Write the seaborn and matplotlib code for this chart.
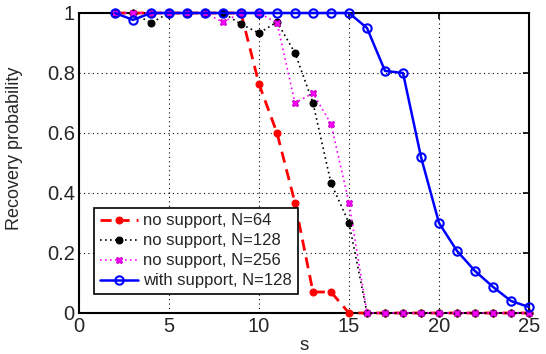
import numpy as np
import pandas as pd
import matplotlib
matplotlib.use("Agg")
import matplotlib.pyplot as plt
import seaborn as sns

s = list(range(2, 26))
p_n64 = [1, 1, 1, 1, 1, 1, 1, 1, 0.763, 0.60, 0.367, 0.07, 0.07, 0, 0, 0, 0, 0, 0, 0, 0, 0, 0, 0]
p_n128 = [1, 1, 0.967, 1, 1, 1, 1, 0.963, 0.933, 0.97, 0.867, 0.70, 0.433, 0.30, 0, 0, 0, 0, 0, 0, 0, 0, 0, 0]
p_n256 = [1, 1, 1, 1, 1, 1, 0.97, 1, 1, 0.967, 0.70, 0.733, 0.63, 0.367, 0, 0, 0, 0, 0, 0, 0, 0, 0, 0]
p_support = [1, 0.977, 1, 1, 1, 1, 1, 1, 1, 1, 1, 1, 1, 1, 0.95, 0.807, 0.80, 0.52, 0.30, 0.207, 0.14, 0.087, 0.04, 0.02]

labels = ["no support, N=64", "no support, N=128", "no support, N=256", "with support, N=128"]
xticks = [0, 5, 10, 15, 20, 25]
yticks = [0, 0.2, 0.4, 0.6, 0.8, 1]
ytick_labels = ["0", "0.2", "0.4", "0.6", "0.8", "1"]

sns.set_style("white")
plt.rcParams['font.family'] = ['Liberation Sans', 'DejaVu Sans']

fig = plt.figure(figsize=(5.46, 3.54), dpi=100)
ax = fig.add_axes([79/546, 1 - 313/354, 450/546, 300/354])

styles = [
    dict(color="#ff0000", linestyle=(0, (4, 2.5)), marker="o", markersize=5, linewidth=2.0,
         markerfacecolor="#ff0000", markeredgecolor="#ff0000"),
    dict(color="black", linestyle=(0, (1, 2)), marker="o", markersize=5, linewidth=1.2,
         markerfacecolor="black", markeredgecolor="black"),
    dict(color="#ff00ff", linestyle=(0, (1, 2)), marker="X", markersize=5, linewidth=1.2,
         markerfacecolor="#ff00ff", markeredgecolor="#cc00cc"),
    dict(color="#0000ff", linestyle="-", marker="o", markersize=6, linewidth=1.8,
         markerfacecolor="none", markeredgecolor="#0000ff", markeredgewidth=1.5),
]
series = [p_n64, p_n128, p_n256, p_support]

for vals, lab, st in zip(series, labels, styles):
    df = pd.DataFrame({"s": s, "p": vals})
    sns.lineplot(data=df, x="s", y="p", ax=ax, label=lab, clip_on=False, zorder=3, **st)

ax.set_xlim(0, 25)
ax.set_ylim(0, 1)
ax.set_xticks(xticks)
ax.set_yticks(yticks)
ax.set_yticklabels(ytick_labels)
ax.tick_params(direction="in", length=4, labelsize=14.5, color="black", width=1.2, pad=3)
ax.tick_params(top=True, right=True, labeltop=False, labelright=False)
ax.grid(True, color="black", linestyle=(0, (1, 3)), linewidth=0.8)
for sp in ax.spines.values():
    sp.set_color("black")
    sp.set_linewidth(1.5)
ax.set_xlabel("s", fontsize=13.5)
ax.set_ylabel("Recovery probability", fontsize=13)
ax.xaxis.set_label_coords(0.5, -0.08)
ax.yaxis.set_label_coords(-0.125, 0.55)

leg = ax.legend(loc="lower left", bbox_to_anchor=(0.015, 0.035), fontsize=12, frameon=True,
                fancybox=False, edgecolor="black", framealpha=1, handlelength=2.3,
                handletextpad=0.3, borderpad=0.35, labelspacing=0.3)
leg.get_frame().set_linewidth(1.2)

fig.savefig("out.png", dpi=100)
